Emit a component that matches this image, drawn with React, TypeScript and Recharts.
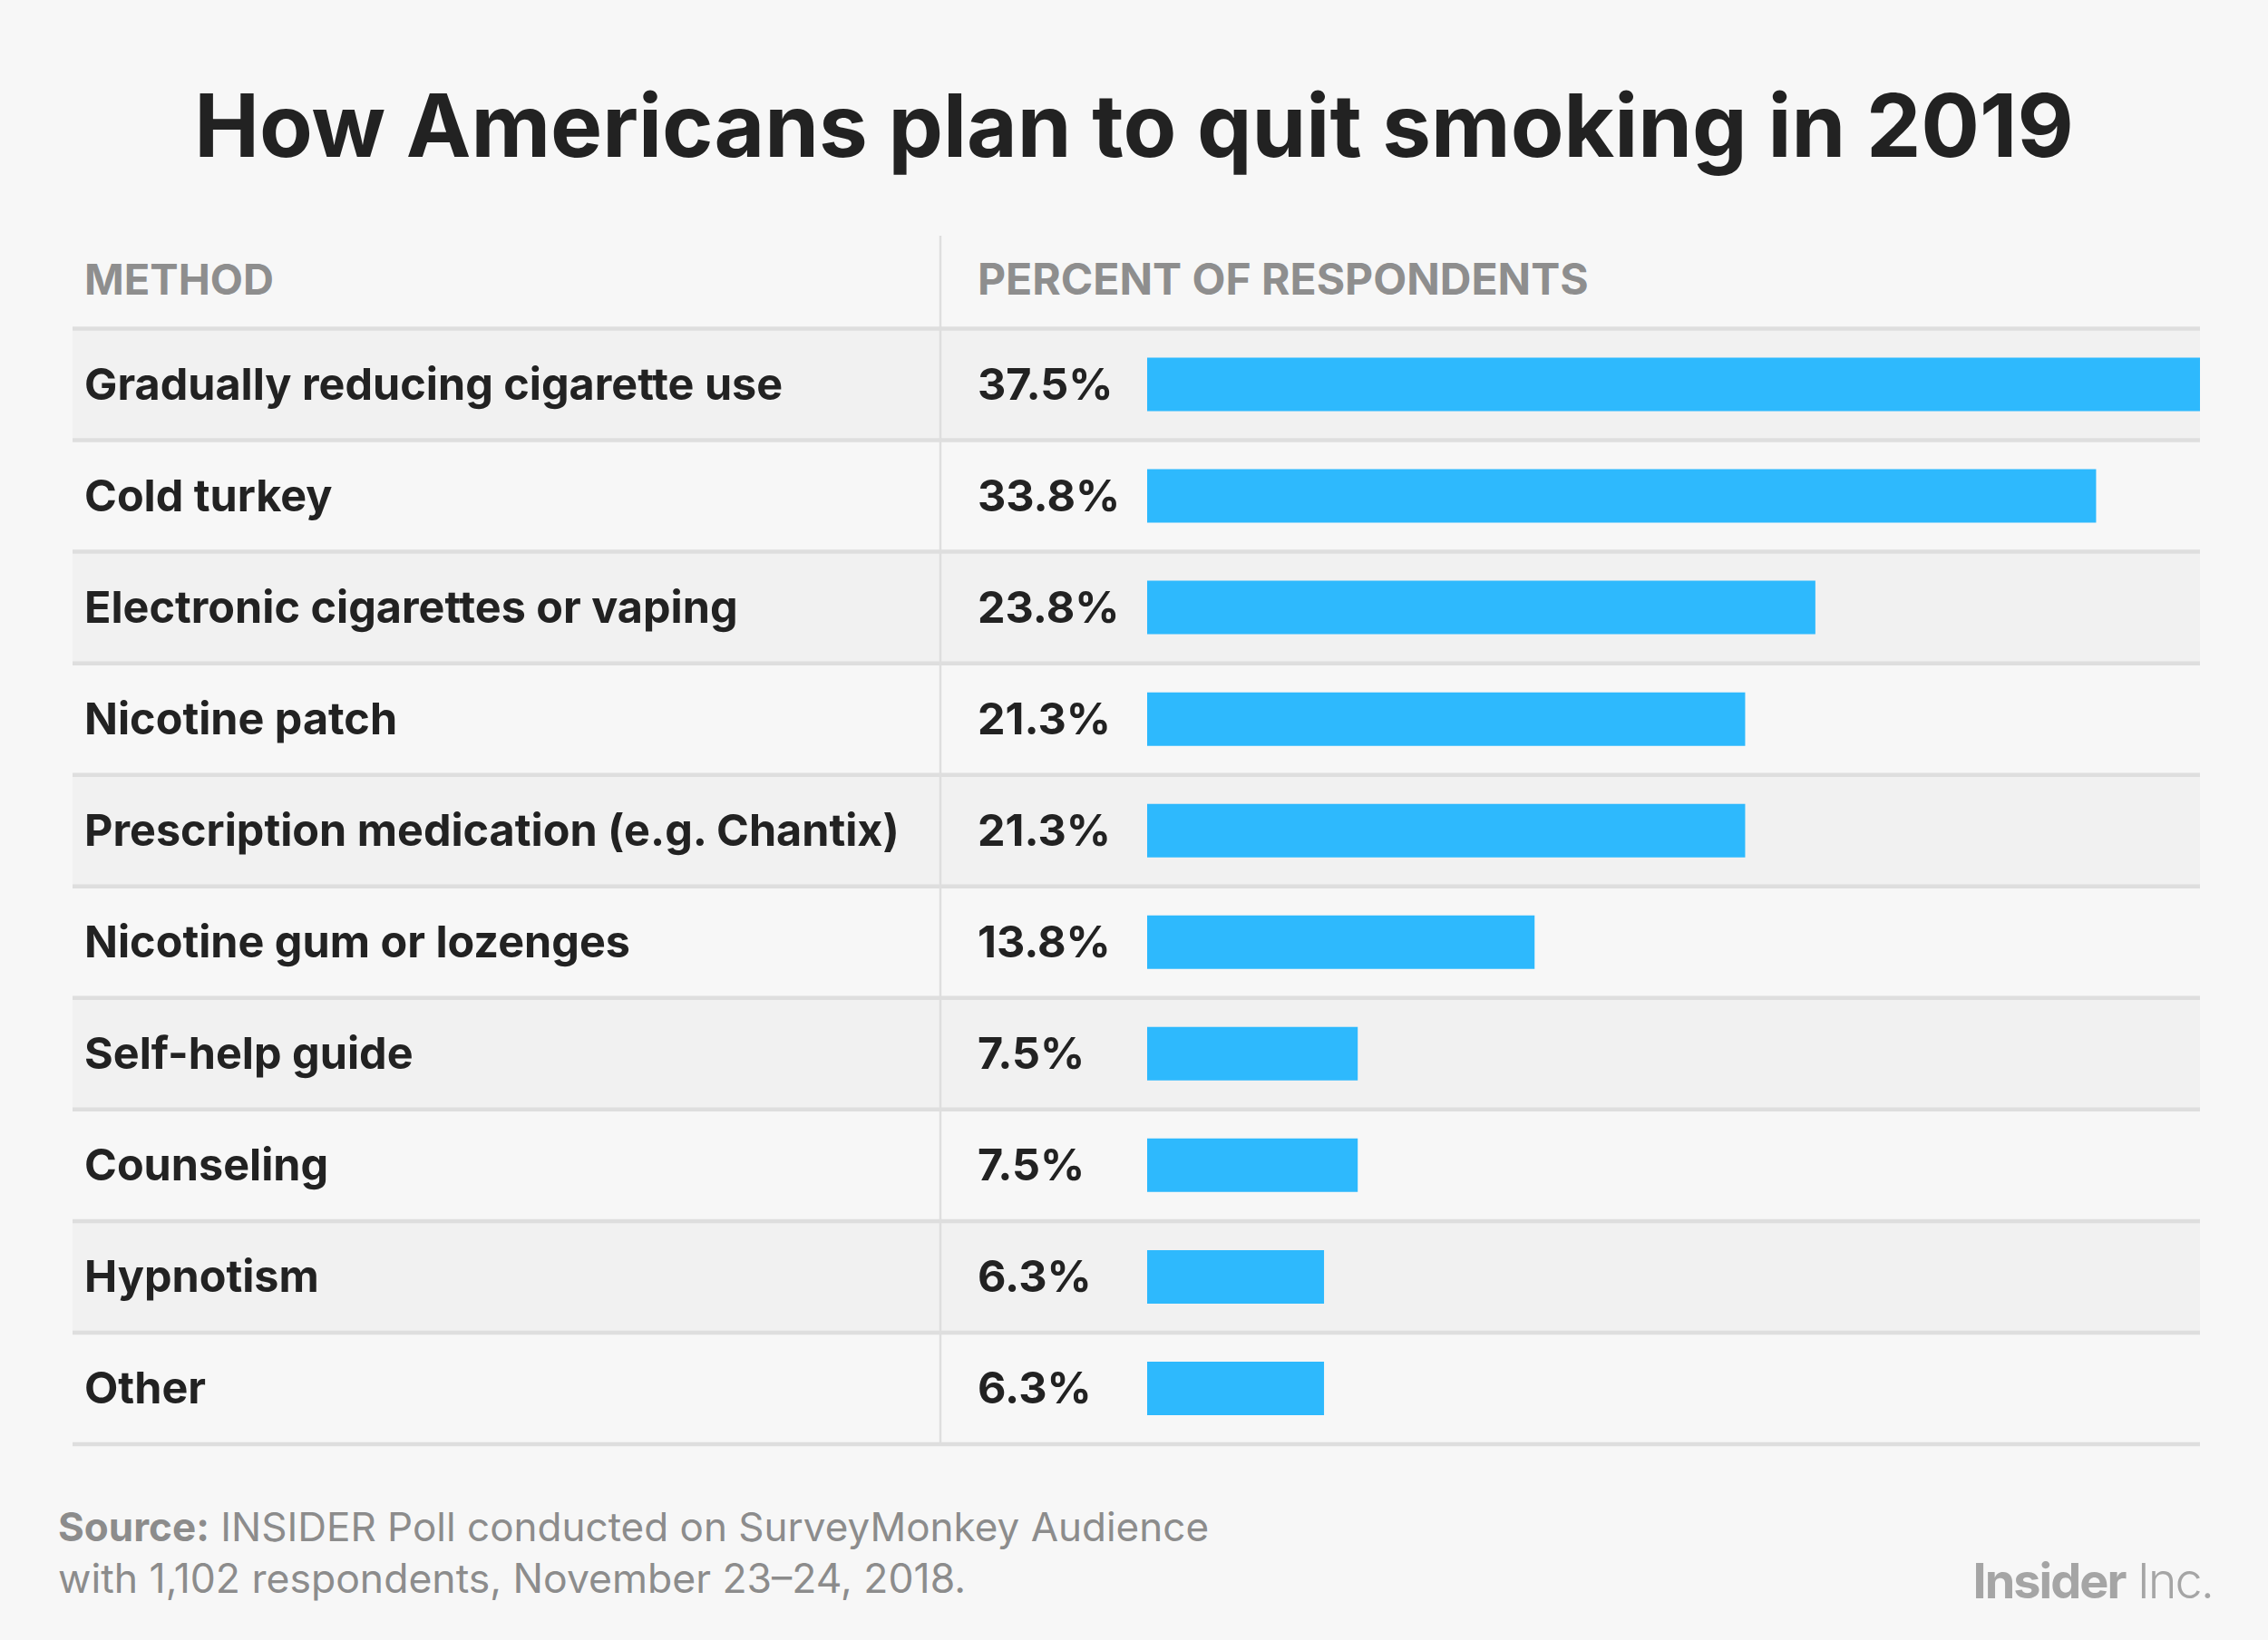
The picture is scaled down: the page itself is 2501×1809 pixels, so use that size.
import React from 'react';
import { BarChart, Bar, XAxis, YAxis, LabelList } from 'recharts';

const methods = [
  'Gradually reducing cigarette use',
  'Cold turkey',
  'Electronic cigarettes or vaping',
  'Nicotine patch',
  'Prescription medication (e.g. Chantix)',
  'Nicotine gum or lozenges',
  'Self-help guide',
  'Counseling',
  'Hypnotism',
  'Other',
];
const percents = [37.5, 33.8, 23.8, 21.3, 21.3, 13.8, 7.5, 7.5, 6.3, 6.3];

const data = methods.map((method, i) => ({ method, value: percents[i] }));

const W = 2501;
const H = 1809;
const FONT = 'Inter, Roboto, sans-serif';
const TABLE_LEFT = 80;
const TABLE_RIGHT = 2426;
const DIVIDER_X = 1037;
const LABEL_X = 93;
const VALUE_X = 1078;
const ROW_H = 123.05;
const LINE = '#dedede';

// row stripes, drawn as the bar background so they sit under the bars
const RowBg = (props: any) => {
  const { y, height, index } = props;
  const top = y + height / 2 - ROW_H / 2;
  return (
    <rect
      x={TABLE_LEFT}
      y={top}
      width={TABLE_RIGHT - TABLE_LEFT}
      height={ROW_H}
      fill={index % 2 === 0 ? '#f1f1f1' : '#f7f7f7'}
    />
  );
};

const RowTick = (props: any) => {
  const { y, payload, index } = props;
  const top = y - ROW_H / 2;
  const last = index === methods.length - 1;
  return (
    <g>
      <line x1={DIVIDER_X} x2={DIVIDER_X} y1={top} y2={top + ROW_H} stroke={LINE} strokeWidth={2.5} />
      <line x1={TABLE_LEFT} x2={TABLE_RIGHT} y1={top} y2={top} stroke={LINE} strokeWidth={4.5} />
      {last && (
        <line x1={TABLE_LEFT} x2={TABLE_RIGHT} y1={top + ROW_H} y2={top + ROW_H} stroke={LINE} strokeWidth={4.5} />
      )}
      <text x={LABEL_X} y={y + 17} fontFamily={FONT} fontSize={48.5} fontWeight={700} fill="#222">
        {payload.value}
      </text>
    </g>
  );
};

const ValueLabel = (props: any) => {
  const { y, height, value } = props;
  return (
    <text x={VALUE_X} y={y + height / 2 + 17} fontFamily={FONT} fontSize={48.5} fontWeight={700} fill="#222">
      {`${value}%`}
    </text>
  );
};

export default function App() {
  return (
    <div style={{ position: 'absolute', left: 0, top: 0, width: W, height: H, background: '#f7f7f7' }}>
      <BarChart
        layout="vertical"
        width={W}
        height={H}
        data={data}
        margin={{ top: 362.5, right: W - TABLE_RIGHT, bottom: 216, left: 0 }}
      >
        <XAxis type="number" domain={[0, 37.5]} hide />
        <YAxis
          type="category"
          dataKey="method"
          width={1265}
          axisLine={false}
          tickLine={false}
          tick={<RowTick />}
          interval={0}
        />
        <Bar
          dataKey="value"
          fill="#2eb9fd"
          barSize={59}
          background={<RowBg />}
          isAnimationActive={false}
        >
          <LabelList dataKey="value" content={<ValueLabel />} />
        </Bar>
      </BarChart>
      <svg
        width={W}
        height={H}
        style={{ position: 'absolute', left: 0, top: 0, pointerEvents: 'none' }}
      >
        <text x={W / 2} y={173} textAnchor="middle" fontFamily={FONT} fontSize={96} fontWeight={700} fill="#222">
          How Americans plan to quit smoking in 2019
        </text>
        <line x1={DIVIDER_X} x2={DIVIDER_X} y1={260} y2={362.5} stroke={LINE} strokeWidth={2.5} />
        <text x={LABEL_X} y={325} fontFamily={FONT} fontSize={47} fontWeight={700} fill="#8e8e8e">
          METHOD
        </text>
        <text x={VALUE_X} y={325} fontFamily={FONT} fontSize={48} fontWeight={700} fill="#8e8e8e">
          PERCENT OF RESPONDENTS
        </text>
        <text x={64} y={1700} fontFamily={FONT} fontSize={44} fill="#8c8c8c">
          <tspan fontWeight={700}>Source:</tspan> INSIDER Poll conducted on SurveyMonkey Audience
        </text>
        <text x={64} y={1757} fontFamily={FONT} fontSize={44.5} fill="#8c8c8c">
          with 1,102 respondents, November 23–24, 2018.
        </text>
        <text x={2440} y={1763} textAnchor="end" fontFamily={FONT} fontSize={54} fill="#a5a5a5" letterSpacing={-2}>
          <tspan fontWeight={700}>Insider</tspan>
          <tspan fontWeight={300}> Inc.</tspan>
        </text>
      </svg>
    </div>
  );
}
